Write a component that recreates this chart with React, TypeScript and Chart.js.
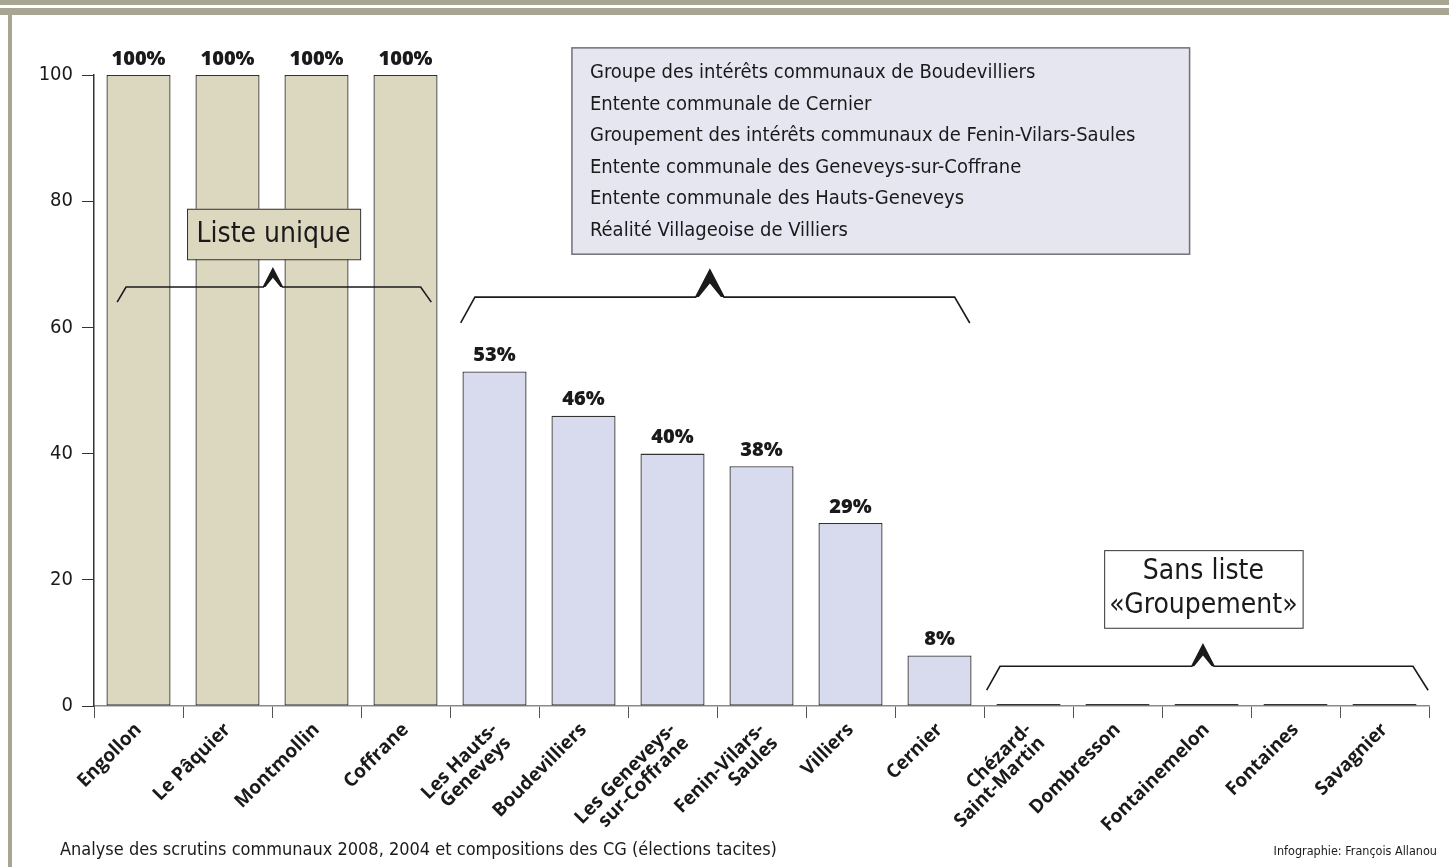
import React, { useEffect, useRef } from "react";
import { Chart, registerables } from "chart.js";

Chart.register(...registerables);

const communes: (string | string[])[] = [
  "Engollon",
  "Le Pâquier",
  "Montmollin",
  "Coffrane",
  ["Les Hauts-", "Geneveys"],
  "Boudevilliers",
  ["Les Geneveys-", "sur-Coffrane"],
  ["Fenin-Vilars-", "Saules"],
  "Villiers",
  "Cernier",
  ["Chézard-", "Saint-Martin"],
  "Dombresson",
  "Fontainemelon",
  "Fontaines",
  "Savagnier",
];
const shares = [100, 100, 100, 100, 53, 46, 40, 38, 29, 8, 0, 0, 0, 0, 0];
const groups = [
  "unique", "unique", "unique", "unique",
  "groupement", "groupement", "groupement", "groupement", "groupement", "groupement",
  "sans", "sans", "sans", "sans", "sans",
];
const yTicks = [0, 20, 40, 60, 80, 100];
const legendLines = [
  "Groupe des intérêts communaux de Boudevilliers",
  "Entente communale de Cernier",
  "Groupement des intérêts communaux de Fenin-Vilars-Saules",
  "Entente communale des Geneveys-sur-Coffrane",
  "Entente communale des Hauts-Geneveys",
  "Réalité Villageoise de Villiers",
];
const uniqueLabel = "Liste unique";
const sansLabel = ["Sans liste", "«Groupement»"];
const footerLeft = "Analyse des scrutins communaux 2008, 2004 et compositions des CG (élections tacites)";
const footerRight = "Infographie: François Allanou";

const NARROW = "'Liberation Sans Narrow', 'DejaVu Sans Condensed', 'Open Sans', sans-serif";
const BOLD = "'Open Sans', 'Noto Sans', sans-serif";
const BEIGE = "#dcd8c0";
const LAVENDER = "#d8dbee";
const BORDER = "#a8a693";

function drawBracket(ctx: CanvasRenderingContext2D, xs: any, ys: any, b: any) {
  const x0 = xs.getPixelForValue(b.x0);
  const x1 = xs.getPixelForValue(b.x1);
  const xp = xs.getPixelForValue(b.xp);
  const x2 = xs.getPixelForValue(b.x2);
  const x3 = xs.getPixelForValue(b.x3);
  const yl = ys.getPixelForValue(b.yl);
  const ye = ys.getPixelForValue(b.ye);
  const yp = ys.getPixelForValue(b.yp);
  const h = yl - yp;
  const hw = h * 0.52;
  ctx.save();
  ctx.strokeStyle = "#1a1a1a";
  ctx.lineWidth = 1.6;
  ctx.lineJoin = "miter";
  ctx.beginPath();
  ctx.moveTo(x0, ye);
  ctx.lineTo(x1, yl);
  ctx.lineTo(xp - hw, yl);
  ctx.lineTo(xp, yp);
  ctx.lineTo(xp + hw, yl);
  ctx.lineTo(x2, yl);
  ctx.lineTo(x3, ye);
  ctx.stroke();
  ctx.fillStyle = "#1a1a1a";
  ctx.beginPath();
  ctx.moveTo(xp - hw, yl);
  ctx.lineTo(xp, yp);
  ctx.lineTo(xp + hw, yl);
  ctx.lineTo(xp + hw * 0.78, yl);
  ctx.lineTo(xp, yp + h * 0.5);
  ctx.lineTo(xp - hw * 0.78, yl);
  ctx.closePath();
  ctx.fill();
  ctx.restore();
}

const decorPlugin = {
  id: "decor",
  beforeDraw(chart: any) {
    const ctx = chart.ctx as CanvasRenderingContext2D;
    ctx.save();
    ctx.fillStyle = "#ffffff";
    ctx.fillRect(0, 0, chart.width, chart.height);
    ctx.fillStyle = BORDER;
    ctx.fillRect(0, 0, chart.width, 5);
    ctx.fillRect(0, 8, chart.width, 7);
    ctx.fillRect(8, 15, 4, chart.height - 15);
    ctx.restore();
  },
  afterDatasetsDraw(chart: any) {
    const ctx = chart.ctx as CanvasRenderingContext2D;
    const meta = chart.getDatasetMeta(0);
    ctx.save();
    ctx.fillStyle = "#1a1a1a";
    ctx.font = `800 20px ${BOLD}`;
    ctx.textAlign = "center";
    ctx.textBaseline = "bottom";
    meta.data.forEach((bar: any, i: number) => {
      if (shares[i] > 0) ctx.fillText(`${shares[i]}%`, bar.x, bar.y - 6);
    });
    ctx.restore();
  },
  afterDraw(chart: any) {
    const ctx = chart.ctx as CanvasRenderingContext2D;
    const xs = chart.scales.x;
    const ys = chart.scales.y;
    ctx.save();

    // Liste unique box
    {
      const l = xs.getPixelForValue(0.545), r = xs.getPixelForValue(2.49);
      const t = ys.getPixelForValue(78.8), b = ys.getPixelForValue(70.8);
      ctx.fillStyle = BEIGE;
      ctx.fillRect(l, t, r - l, b - t);
      ctx.strokeStyle = "#333";
      ctx.lineWidth = 1;
      ctx.strokeRect(l + 0.5, t + 0.5, r - l, b - t);
      ctx.fillStyle = "#1a1a1a";
      ctx.font = `28px ${NARROW}`;
      ctx.textAlign = "center";
      ctx.textBaseline = "middle";
      ctx.fillText(uniqueLabel, (l + r) / 2, (t + b) / 2 + 1);
    }
    drawBracket(ctx, xs, ys, { x0: -0.24, x1: -0.14, xp: 1.51, x2: 3.17, x3: 3.29, yl: 66.4, ye: 64.0, yp: 69.3 });

    // Groupement legend box
    {
      const l = xs.getPixelForValue(4.87), r = xs.getPixelForValue(11.81);
      const t = ys.getPixelForValue(104.3), b = ys.getPixelForValue(71.6);
      ctx.fillStyle = "#e6e6f1";
      ctx.fillRect(l, t, r - l, b - t);
      ctx.strokeStyle = "#707078";
      ctx.lineWidth = 1.5;
      ctx.strokeRect(l, t, r - l, b - t);
      ctx.fillStyle = "#1a1a1a";
      ctx.font = `20px ${NARROW}`;
      ctx.textAlign = "left";
      ctx.textBaseline = "middle";
      legendLines.forEach((line, i) => {
        ctx.fillText(line, l + 18, t + 25 + i * 31.6);
      });
    }
    drawBracket(ctx, xs, ys, { x0: 3.62, x1: 3.78, xp: 6.42, x2: 9.17, x3: 9.34, yl: 64.8, ye: 60.7, yp: 69.1 });

    // Sans liste box
    {
      const l = xs.getPixelForValue(10.85), r = xs.getPixelForValue(13.08);
      const t = ys.getPixelForValue(24.7), b = ys.getPixelForValue(12.4);
      ctx.fillStyle = "#ffffff";
      ctx.fillRect(l, t, r - l, b - t);
      ctx.strokeStyle = "#333";
      ctx.lineWidth = 1;
      ctx.strokeRect(l + 0.5, t + 0.5, r - l, b - t);
      ctx.fillStyle = "#1a1a1a";
      ctx.font = `28px ${NARROW}`;
      ctx.textAlign = "center";
      ctx.textBaseline = "middle";
      const cx = (l + r) / 2;
      ctx.fillText(sansLabel[0], cx, t + 22);
      ctx.fillText(sansLabel[1], cx, t + 56);
    }
    drawBracket(ctx, xs, ys, { x0: 9.53, x1: 9.68, xp: 11.96, x2: 14.32, x3: 14.49, yl: 6.3, ye: 2.5, yp: 9.7 });

    // Footer
    ctx.fillStyle = "#1a1a1a";
    ctx.textBaseline = "alphabetic";
    ctx.textAlign = "left";
    ctx.font = `18px ${NARROW}`;
    ctx.fillText(footerLeft, 60, 855);
    ctx.textAlign = "right";
    ctx.font = `12.5px ${NARROW}`;
    ctx.fillText(footerRight, 1437, 855);
    ctx.restore();
  },
};

export default function App() {
  const ref = useRef<HTMLCanvasElement | null>(null);
  useEffect(() => {
    if (!ref.current) return;
    const colors = groups.map((g) => (g === "unique" ? BEIGE : LAVENDER));
    const chart = new Chart(ref.current, {
      type: "bar",
      data: {
        labels: communes as any,
        datasets: [
          {
            data: shares,
            backgroundColor: colors,
            borderColor: "#333333",
            borderWidth: 1.3,
            borderSkipped: false,
            minBarLength: 2,
            barPercentage: 0.72,
            categoryPercentage: 1,
          },
        ],
      },
      options: {
        responsive: false,
        animation: false,
        events: [],
        layout: { padding: { left: 0, top: 75, right: 20, bottom: 0 } },
        plugins: { legend: { display: false }, tooltip: { enabled: false } },
        scales: {
          x: {
            grid: {
              display: true,
              drawOnChartArea: false,
              drawTicks: true,
              tickLength: 12,
              color: "#555",
              offset: true,
            },
            border: { display: true, color: "#8a8a8a", width: 1.5 },
            ticks: {
              minRotation: 45,
              maxRotation: 45,
              autoSkip: false,
              color: "#1a1a1a",
              padding: 2,
              font: { family: BOLD, size: 19, weight: "bold", lineHeight: 1.0 },
            },
            afterFit: (s: any) => {
              s.height = 161;
            },
          },
          y: {
            min: 0,
            max: 100,
            afterBuildTicks: (s: any) => {
              s.ticks = yTicks.map((v) => ({ value: v }));
            },
            grid: {
              display: true,
              drawOnChartArea: false,
              drawTicks: true,
              tickLength: 12,
              color: "#333",
            },
            border: { display: true, color: "#333", width: 1.5 },
            ticks: {
              color: "#1a1a1a",
              padding: 9,
              font: { family: NARROW, size: 20 },
            },
            afterFit: (s: any) => {
              s.width = 94;
            },
          },
        },
      },
      plugins: [decorPlugin],
    });
    return () => chart.destroy();
  }, []);
  return (
    <canvas
      ref={ref}
      width={1449}
      height={867}
      style={{ position: "fixed", left: 0, top: 0, width: 1449, height: 867, display: "block" }}
    />
  );
}
